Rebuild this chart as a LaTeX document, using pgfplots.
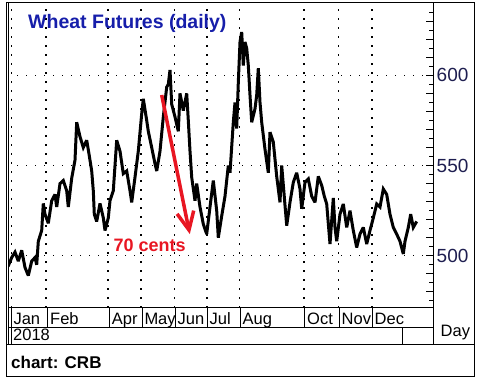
\documentclass[border=0pt]{standalone}
\usepackage{pgfplots}
\pgfplotsset{compat=1.18}
\usepackage{fontspec}
\setmainfont{Liberation Sans}
\definecolor{titleblue}{RGB}{22,30,170}
\definecolor{tickblue}{RGB}{30,30,80}
\definecolor{annred}{RGB}{232,22,34}
\begin{document}
\begin{tikzpicture}[x=1pt,y=1pt]
\useasboundingbox (0,0) rectangle (477,-380);
\begin{axis}[
  at={(8pt,-2.5pt)}, anchor=north west,
  scale only axis, width=425pt, height=305pt,
  xmin=8, xmax=433, ymin=471.3, ymax=640.4,
  axis line style={black, line width=1pt},
  xtick={11.5,46,108,141,174.3,207,239.3,304,338.5,372},
  xticklabels={},
  ytick={500,550,600},
  ytick pos=right, yticklabel pos=right,
  tick align=inside,
  minor ytick={475,485,...,635},
  extra y ticks={480,490,510,520,530,540,560,570,580,590,610,620,630},
  extra y tick labels={},
  extra y tick style={grid=none},
  major tick length=7pt, minor tick length=4pt,
  tick style={black, line width=1pt},
  xtick style={draw=none},
  grid=major,
  major grid style={black, line width=1.3pt, dash pattern=on 1.3pt off 7.7pt},
  yticklabel style={font=\fontsize{19}{19}\selectfont, text=tickblue, anchor=west, inner sep=0pt, xshift=3.5pt},
  /pgf/number format/assume math mode=true,
]
\addplot[black, line width=3pt, line join=miter, miter limit=3] table {
8 494
11.7 499
15 502
18.3 497
21.7 503
25 493.5
28.3 489
31.7 497
35 499
36.7 495
38.3 508
41.7 514
43.3 529
45 523
48.3 518
51.7 530.5
55 534
56.7 527
60 540
63.3 541.7
66.7 536
68.3 527
71.7 543
75 553
76.7 574
80 566
83.3 560
86.7 564
90 553
91.7 547
93.3 536
94.3 523
96.7 519
100 529
103.3 521
105 514
108.3 521
110 530.5
113.3 536
116.7 564
120 558
123.3 545.5
126.7 547
130 536
131.7 529.6
135 543.5
138.3 558
141.7 578.7
143.3 587
146.7 575
148.3 569
151.7 560
155 551
156.7 547
160 558
163.3 577
166.7 593.5
168.3 595
170 603
171.7 584
175 577
178.3 569
180 590
183.3 580.5
186.7 590
188.3 575
190 558
191.7 543.5
195 530.5
196.7 540
200 527
203.3 517.6
206.7 512
210 527
213.3 541.7
216.7 525
218.3 510
221.7 522
225 533
228.3 550
230 546
233.3 574
235 585
236.7 570.5
238.3 596
240 618.5
241.7 624
243.3 605.5
245 618.5
246.7 615
248.3 605.5
250 589
251.7 574
255 581.5
256.7 589
258.3 604
260 585
261.7 574
265 559
268.3 546
270 568.5
273.3 563
276.7 544
280 529.6
281.7 550
285 528
286.7 516.7
290 529.6
293.3 540.7
296.7 546
300 537
301.7 526
305 540.7
308.3 542.6
311.7 533
315 529.6
318.3 544
321.7 539
324.3 533
326.7 528.7
330 506.5
333.3 532
335 515.7
336.7 508
340 523
343.3 528.7
346.7 515.7
350 525
353.3 514
356.7 504.6
360 512
363.3 515.7
366.7 506.5
370 514
373.3 521
376.7 528.7
380 527
383.3 537
386.7 534
390 523
393.3 515.7
396.7 512
400 508
403.3 501
405 508
408.3 515.7
410.7 523
413.3 515.7
416.7 519
};
\end{axis}
% frames
\draw[black, line width=1pt] (6,-2.5) rectangle (474,-376);
\draw[black, line width=1pt] (6,-344.5) -- (474,-344.5);
\draw[black, line width=1pt] (8,-2.5) -- (8,-344.5);
\draw[black, line width=1pt] (433,-2.5) -- (433,-344.5);
\draw[black, line width=1pt] (8,-327) -- (433,-327);
\foreach \s in {11,47.5,109,142,175,207.5,240,304.5,339,372.5}
  \draw[black, line width=1pt] (\s,-307.5) -- (\s,-327);
\draw[black, line width=1pt] (11,-327) -- (11,-344.5);
\draw[black, line width=1pt] (402.7,-327) -- (402.7,-344.5);
% month labels
\begin{scope}[every node/.style={anchor=base west, inner sep=0pt, font=\fontsize{16.5}{16.5}\selectfont}]
\node at (13.3,-324.3) {Jan};
\node at (50,-324.3) {Feb};
\node at (111.7,-324.3) {Apr};
\node at (144.3,-324.3) {May};
\node at (177.5,-324.3) {Jun};
\node at (209.5,-324.3) {Jul};
\node at (242.5,-324.3) {Aug};
\node at (307,-324.3) {Oct};
\node at (341.5,-324.3) {Nov};
\node at (374.5,-324.3) {Dec};
\node at (13,-340.7) {2018};
\node at (440.5,-336.7) {Day};
\end{scope}
\node[anchor=base west, inner sep=0pt, font=\bfseries\fontsize{17}{17}\selectfont] at (11,-368.3) {chart: CRB};
% title
\node[anchor=base west, inner sep=0pt, text=titleblue, font=\bfseries\fontsize{19.5}{19.5}\selectfont] at (28,-28.3) {Wheat Futures (daily)};
% annotation
\draw[annred, line width=3.5pt] (161.7,-95) -- (188.5,-228);
\draw[annred, line width=3.5pt, line join=miter] (177.1,-213.9) -- (189,-230) -- (193.7,-210.6);
\node[anchor=base west, inner sep=0pt, text=annred, font=\bfseries\fontsize{18}{18}\selectfont] at (113.3,-251.7) {70 cents};
\end{tikzpicture}
\end{document}
